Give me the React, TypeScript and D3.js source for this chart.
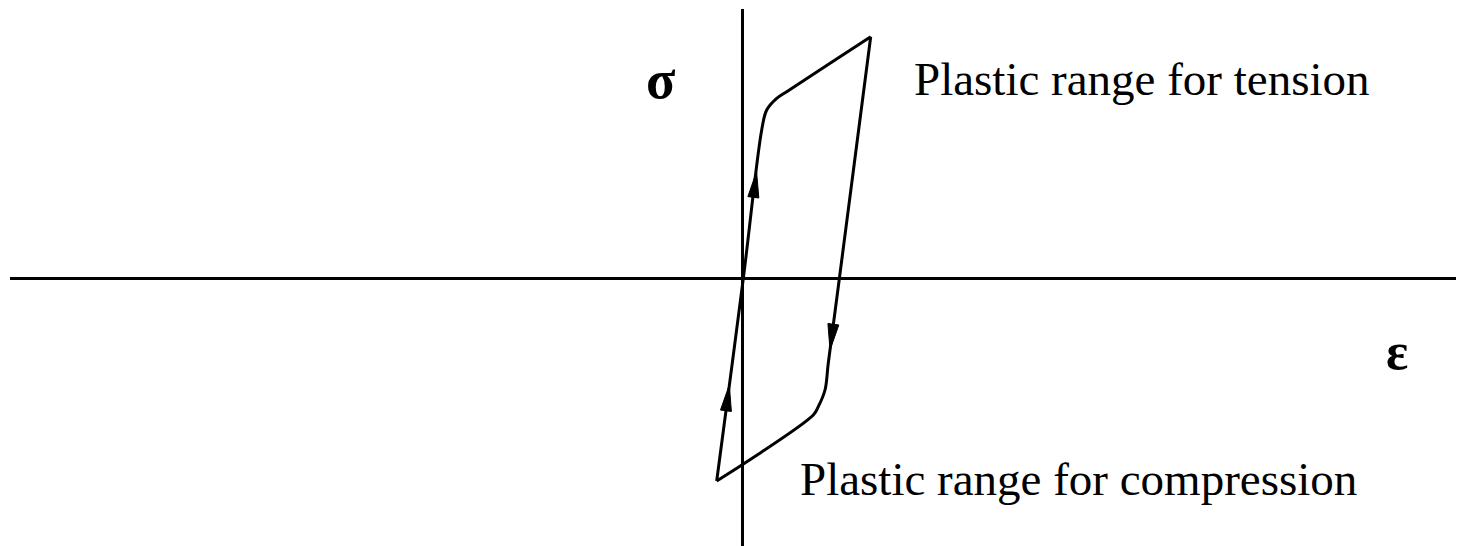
import React from "react";
import * as d3 from "d3";

const W = 1466;
const H = 546;

// Axis extents (strain / stress units)
const strainDomain = [-7.325, 7.135];
const stressDomain = [-2.675, 2.695];

// Loading branch: from compression vertex up to tension vertex
const loadStrain = [-0.258, 0.008, 0.192, 0.242, 0.342, 0.442, 1.282];
const loadStress = [-2.025, 0.0, 1.485, 1.685, 1.802, 1.868, 2.418];

// Unloading branch: from tension vertex down to compression vertex
const unloadStrain = [1.282, 0.968, 0.858, 0.825, 0.758, 0.708, -0.258];
const unloadStress = [2.418, -0.005, -0.845, -1.115, -1.282, -1.365, -2.025];

// Arrow tips (stress level) on each branch
const upArrowStress = [1.07, -1.065];
const downArrowStress = [-0.715];

const labelTension = "Plastic range for tension";
const labelCompression = "Plastic range for compression";

export default function App() {
  const x = d3.scaleLinear().domain(strainDomain).range([10, 1456]);
  const y = d3.scaleLinear().domain(stressDomain).range([546, 9]);

  const load = loadStrain.map((e, i) => [e, loadStress[i]] as [number, number]);
  const unload = unloadStrain.map((e, i) => [e, unloadStress[i]] as [number, number]);

  const line = d3
    .line<[number, number]>()
    .x((d) => x(d[0]))
    .y((d) => y(d[1]))
    .curve(d3.curveCatmullRom.alpha(0.5));

  const pointAt = (pts: [number, number][], s: number) => {
    for (let i = 0; i < pts.length - 1; i++) {
      const [e0, s0] = pts[i];
      const [e1, s1] = pts[i + 1];
      if ((s - s0) * (s - s1) <= 0 && s0 !== s1) {
        const t = (s - s0) / (s1 - s0);
        return { px: x(e0 + t * (e1 - e0)), py: y(s), dx: x(e1) - x(e0), dy: y(s1) - y(s0) };
      }
    }
    return { px: 0, py: 0, dx: 0, dy: 1 };
  };

  const arrow = (pts: [number, number][], s: number, key: string) => {
    const { px, py, dx, dy } = pointAt(pts, s);
    const len = Math.hypot(dx, dy);
    const ux = dx / len;
    const uy = dy / len;
    const L = 26;
    const hw = 5.5;
    const bx = px - ux * L;
    const by = py - uy * L;
    const p = `M${px},${py} L${bx - uy * hw},${by + ux * hw} L${bx + uy * hw},${by - ux * hw} Z`;
    return <path key={key} d={p} fill="#000" stroke="#000" strokeWidth={1} strokeLinejoin="miter" />;
  };

  const font = "'Liberation Serif', 'Times New Roman', serif";

  return (
    <svg
      width={W}
      height={H}
      style={{ position: "absolute", left: 0, top: 0, background: "#fff" }}
    >
      <line x1={x(strainDomain[0])} x2={x(strainDomain[1])} y1={y(0)} y2={y(0)} stroke="#000" strokeWidth={3} />
      <line x1={x(0)} x2={x(0)} y1={y(stressDomain[1])} y2={y(stressDomain[0])} stroke="#000" strokeWidth={3} />

      <path d={line(load) || ""} fill="none" stroke="#000" strokeWidth={3} strokeLinejoin="miter" />
      <path d={line(unload) || ""} fill="none" stroke="#000" strokeWidth={3} strokeLinejoin="miter" />

      {upArrowStress.map((s, i) => arrow(load, s, "u" + i))}
      {downArrowStress.map((s, i) => arrow(unload, s, "d" + i))}

      <text x={646} y={98} fontFamily={font} fontSize={54} fontWeight="bold">σ</text>
      <text x={1386} y={369} fontFamily={font} fontSize={52} fontWeight="bold">ε</text>
      <text x={914} y={95} fontFamily={font} fontSize={47}>{labelTension}</text>
      <text x={800} y={495} fontFamily={font} fontSize={47}>{labelCompression}</text>
    </svg>
  );
}
